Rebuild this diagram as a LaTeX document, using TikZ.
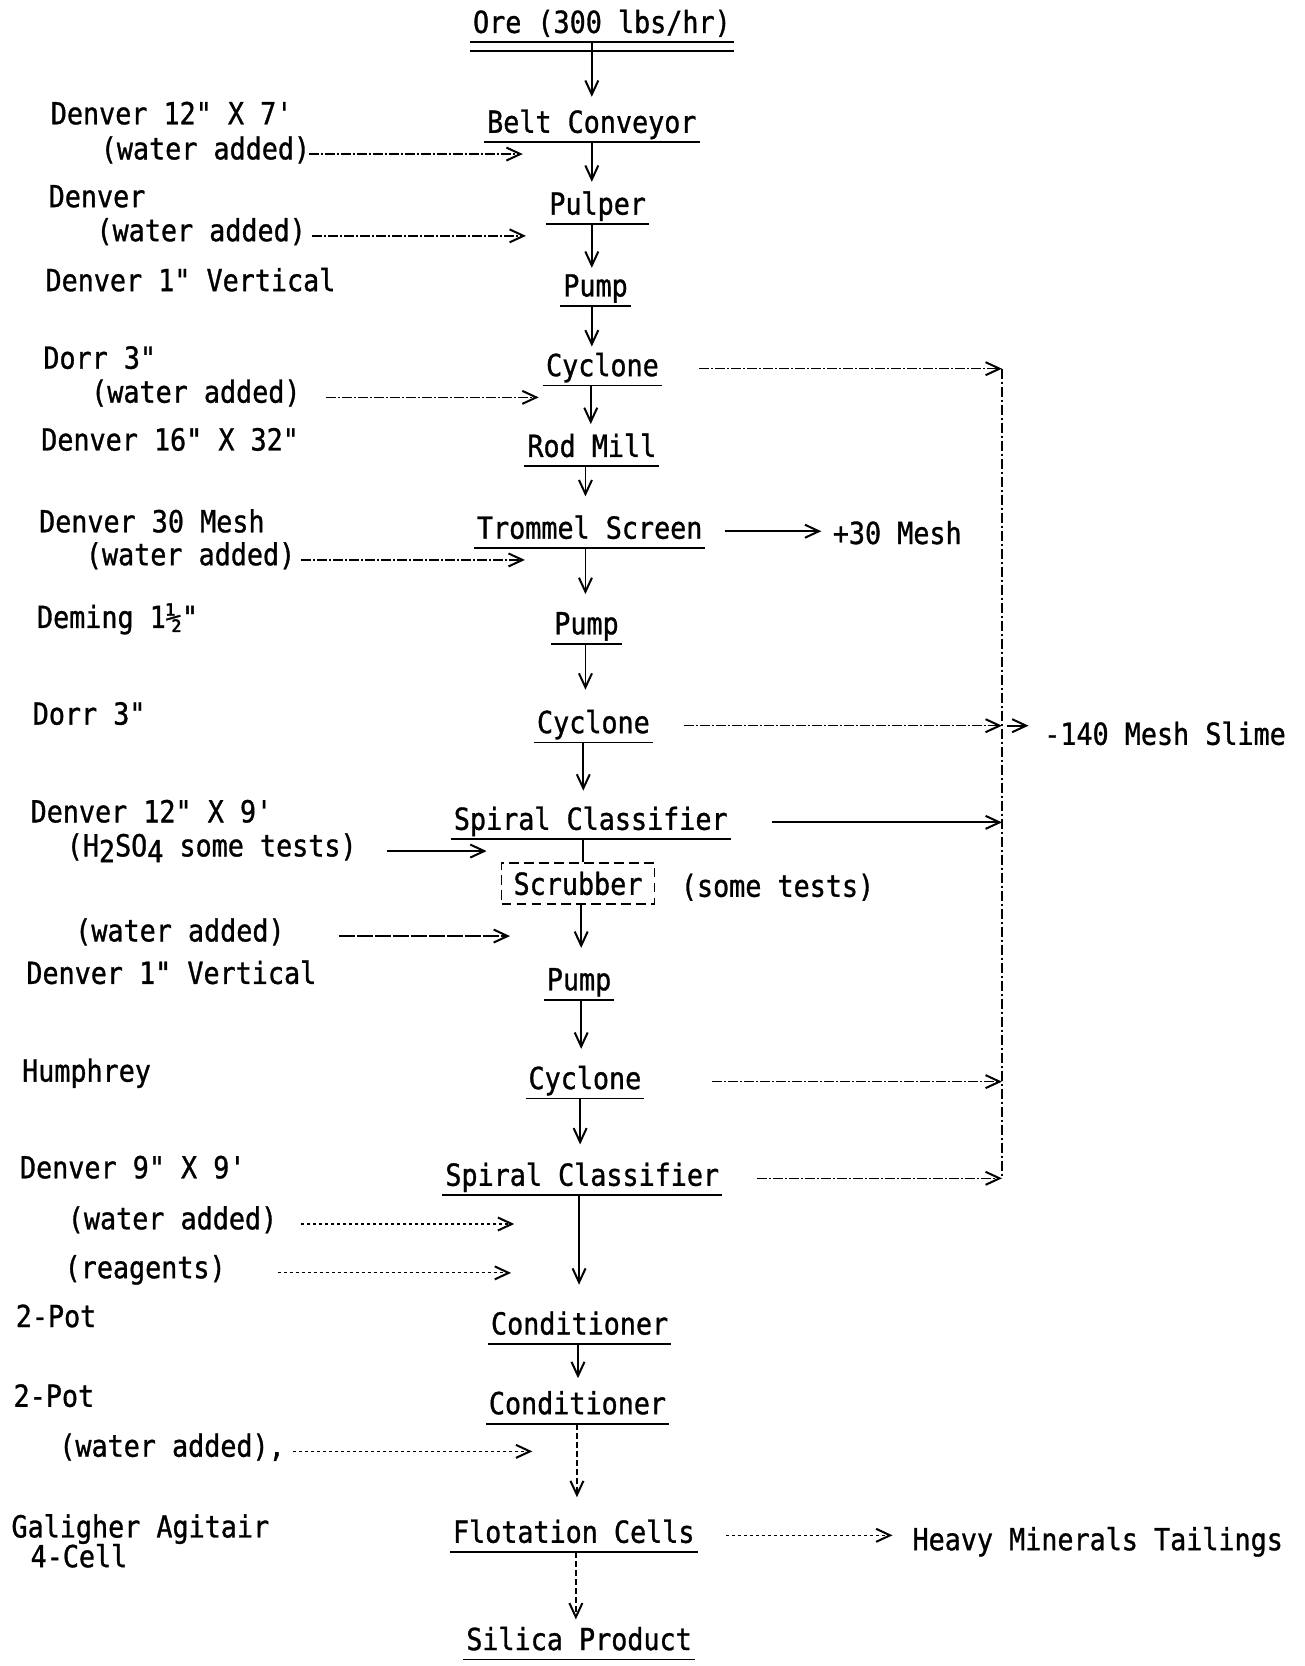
\documentclass[tikz,border=0pt]{standalone}
\usepackage{fontspec}
\setmonofont{DejaVu Sans Mono}[FakeStretch=0.88,FakeBold=1]
\usetikzlibrary{arrows.meta}
\newlength{\pxu}\setlength{\pxu}{0.53135pt}
\begin{document}
\begin{tikzpicture}[x=0.53135pt,y=-0.53135pt,
  font=\ttfamily\fontsize{15.2pt}{18pt}\selectfont,
  line width=0.9pt,
  tip/.style={-{Straight Barb[length=7pt,width=6.5pt,line width=1pt]}},
  proc/.style={anchor=base,inner xsep=2\pxu,inner ysep=0pt,text height=22\pxu,text depth=8\pxu},
  lbl/.style={anchor=base west,inner sep=0pt,text height=16\pxu,text depth=6\pxu},
  mixed/.style={tip,line width=0.7pt,dash pattern=on 5pt off 1pt on 1pt off 1pt},
  dots/.style={tip,line width=0.6pt,dash pattern=on 1.5pt off 1.5pt},
  solidf/.style={tip,line width=0.9pt},
  vline/.style={line width=0.7pt,dash pattern=on 5pt off 1.5pt on 1pt off 1.5pt},
  cdash/.style={tip,line width=0.7pt,dash pattern=on 3pt off 1.5pt},
  sbox/.style={draw,line width=0.9pt,dash pattern=on 4.8pt off 2.7pt,minimum width=144\pxu,minimum height=39\pxu,inner sep=0pt}
]
\fill[white] (0,0) rectangle (1228,1568);
\useasboundingbox (0,0) rectangle (1228,1568);

% central column
\node[proc] (ore) at (566.5,31) {Ore (300 lbs/hr)};
\node[proc] (belt) at (557,125) {Belt Conveyor};
\node[proc] (pulp) at (562.5,202) {Pulper};
\node[proc] (pump1) at (560.5,279) {Pump};
\node[proc] (cyc1) at (567,354) {Cyclone};
\node[proc] (rod) at (557,430) {Rod Mill};
\node[proc] (trom) at (555,507) {Trommel Screen};
\node[proc] (pump2) at (552,597) {Pump};
\node[proc] (cyc2) at (558.5,690) {Cyclone};
\node[proc] (spir1) at (556,781) {Spiral Classifier};
\node[sbox] (scrub) at (544,831.5) {Scrubber};
\node[proc] (pump3) at (545,932) {Pump};
\node[proc] (cyc3) at (550.5,1025) {Cyclone};
\node[proc] (spir2) at (548,1116) {Spiral Classifier};
\node[proc] (cond1) at (545.5,1256) {Conditioner};
\node[proc] (cond2) at (543.5,1331) {Conditioner};
\node[proc] (flot) at (540,1452) {Flotation Cells};
\node[proc] (sil) at (545,1553) {Silica Product};
\node[lbl] (some) at (640,844) {(some tests)};

\foreach \n in {ore,belt,pulp,pump1,cyc1,rod,trom,pump2,cyc2,spir1,pump3,cyc3,spir2,cond1,cond2,flot,sil}
  \draw (\n.south west) -- (\n.south east);
\draw ([yshift=-8\pxu]ore.south west) -- ([yshift=-8\pxu]ore.south east);

% down arrows
\foreach \a/\b/\x/\s in {ore/belt/557/11,belt/pulp/557/8,pulp/pump1/557/4,pump1/cyc1/557/5,
  cyc1/rod/556/8,rod/trom/551/17,trom/pump2/551/15,pump2/cyc2/551/18,cyc2/spir1/549/14,
  scrub/pump3/547/17,pump3/cyc3/547/15,cyc3/spir2/546/16,spir2/cond1/545/24,cond1/cond2/544/11}
  \draw[tip,shorten >=\s\pxu] (\a.south -| \x,0) -- (\b.north -| \x,0);
\draw (spir1.south -| 549,0) -- (scrub.north -| 549,0);
\draw[cdash,shorten >=20\pxu] (cond2.south -| 543,0) -- (flot.north -| 543,0);
\draw[cdash,shorten >=6\pxu] (flot.south -| 542,0) -- (sil.north -| 542,0);

% left labels
\node[lbl] (l1) at (47,117) {Denver 12" X 7'};
\node[lbl] (w1) at (94,150) {(water added)};
\node[lbl] (l2) at (45,195) {Denver};
\node[lbl] (w2) at (90,227) {(water added)};
\node[lbl] (l3) at (42,274) {Denver 1" Vertical};
\node[lbl] (l4) at (40,347) {Dorr 3"};
\node[lbl] (w3) at (85,379) {(water added)};
\node[lbl] (l5) at (38,424) {Denver 16" X 32"};
\node[lbl] (l6) at (36,501) {Denver 30 Mesh};
\node[lbl] (w4) at (80,532) {(water added)};
\node[lbl] (l7) at (34,591) {Deming 1½"};
\node[lbl] (l8) at (30,682) {Dorr 3"};
\node[lbl] (l9) at (28,774) {Denver 12" X 9'};
\node[lbl] (h2) at (62,806) {(H\raisebox{-0.35ex}{2}SO\raisebox{-0.35ex}{4} some tests)};
\node[lbl] (w5) at (70,886) {(water added)};
\node[lbl] (l10) at (24,926) {Denver 1" Vertical};
\node[lbl] (l11) at (20,1018) {Humphrey};
\node[lbl] (l12) at (18,1109) {Denver 9" X 9'};
\node[lbl] (w6) at (63,1157) {(water added)};
\node[lbl] (rg) at (60,1203) {(reagents)};
\node[lbl] (l13) at (14,1249) {2-Pot};
\node[lbl] (l14) at (12,1324) {2-Pot};
\node[lbl] (w7) at (55,1371) {(water added),};
\node[lbl] (l15) at (10,1447) {Galigher Agitair};
\node[lbl] (l16) at (28,1475) {4-Cell};

% feed arrow ends
\coordinate (e1) at (492,0);
\coordinate (e2) at (495,0);
\coordinate (e3) at (507,0);
\coordinate (e4) at (494,0);
\coordinate (e5) at (458,0);
\coordinate (e6) at (480,0);
\coordinate (e7) at (484,0);
\coordinate (e8) at (481,0);
\coordinate (e9) at (501,0);
\draw[mixed] ([xshift=-2\pxu]w1.east) -- (w1.east -| e1);
\draw[mixed] ([xshift=5\pxu]w2.east) -- (w2.east -| e2);
\draw[mixed] ([xshift=23\pxu]w3.east) -- (w3.east -| e3);
\draw[mixed] ([xshift=5\pxu]w4.east) -- (w4.east -| e4);
\draw[solidf] ([xshift=28\pxu]h2.east) -- (h2.east -| e5);
\draw[solidf,dash pattern=on 8pt off 1pt] ([xshift=50\pxu]w5.east) -- (w5.east -| e6);
\draw[dots] ([xshift=22\pxu]w6.east) -- (w6.east -| e7);
\draw[dots] ([xshift=48\pxu]rg.east) -- (rg.east -| e8);
\draw[dots] ([xshift=7\pxu]w7.east) -- (w7.east -| e9);

% right side
\node[lbl] (p30) at (783,512) {+30 Mesh};
\node[lbl] (slime) at (982,701) {-140 Mesh Slime};
\node[lbl] (tail) at (858,1459) {Heavy Minerals Tailings};
\coordinate (vt) at (943,347);
\coordinate (vb) at (943,1109);
\draw[vline] (vt) -- (vb);
\draw[mixed] ([xshift=35\pxu]cyc1.east) -- (cyc1.east -| vt);
\draw[solidf,shorten >=10\pxu] ([xshift=18\pxu]trom.east) -- (p30.west |- trom.east);
\draw[mixed] ([xshift=29\pxu]cyc2.east) -- (cyc2.east -| vt);
\draw[tip,shorten <=5\pxu,shorten >=14\pxu] (cyc2.east -| vt) -- (slime.west |- cyc2.east);
\draw[solidf] ([xshift=39\pxu]spir1.east) -- (spir1.east -| vt);
\draw[mixed] ([xshift=64\pxu]cyc3.east) -- (cyc3.east -| vt);
\draw[mixed] ([xshift=33\pxu]spir2.east) -- (spir2.east -| vt);
\draw[dots,shorten >=18\pxu] ([xshift=27\pxu]flot.east) -- (tail.west |- flot.east);
\end{tikzpicture}
\end{document}
